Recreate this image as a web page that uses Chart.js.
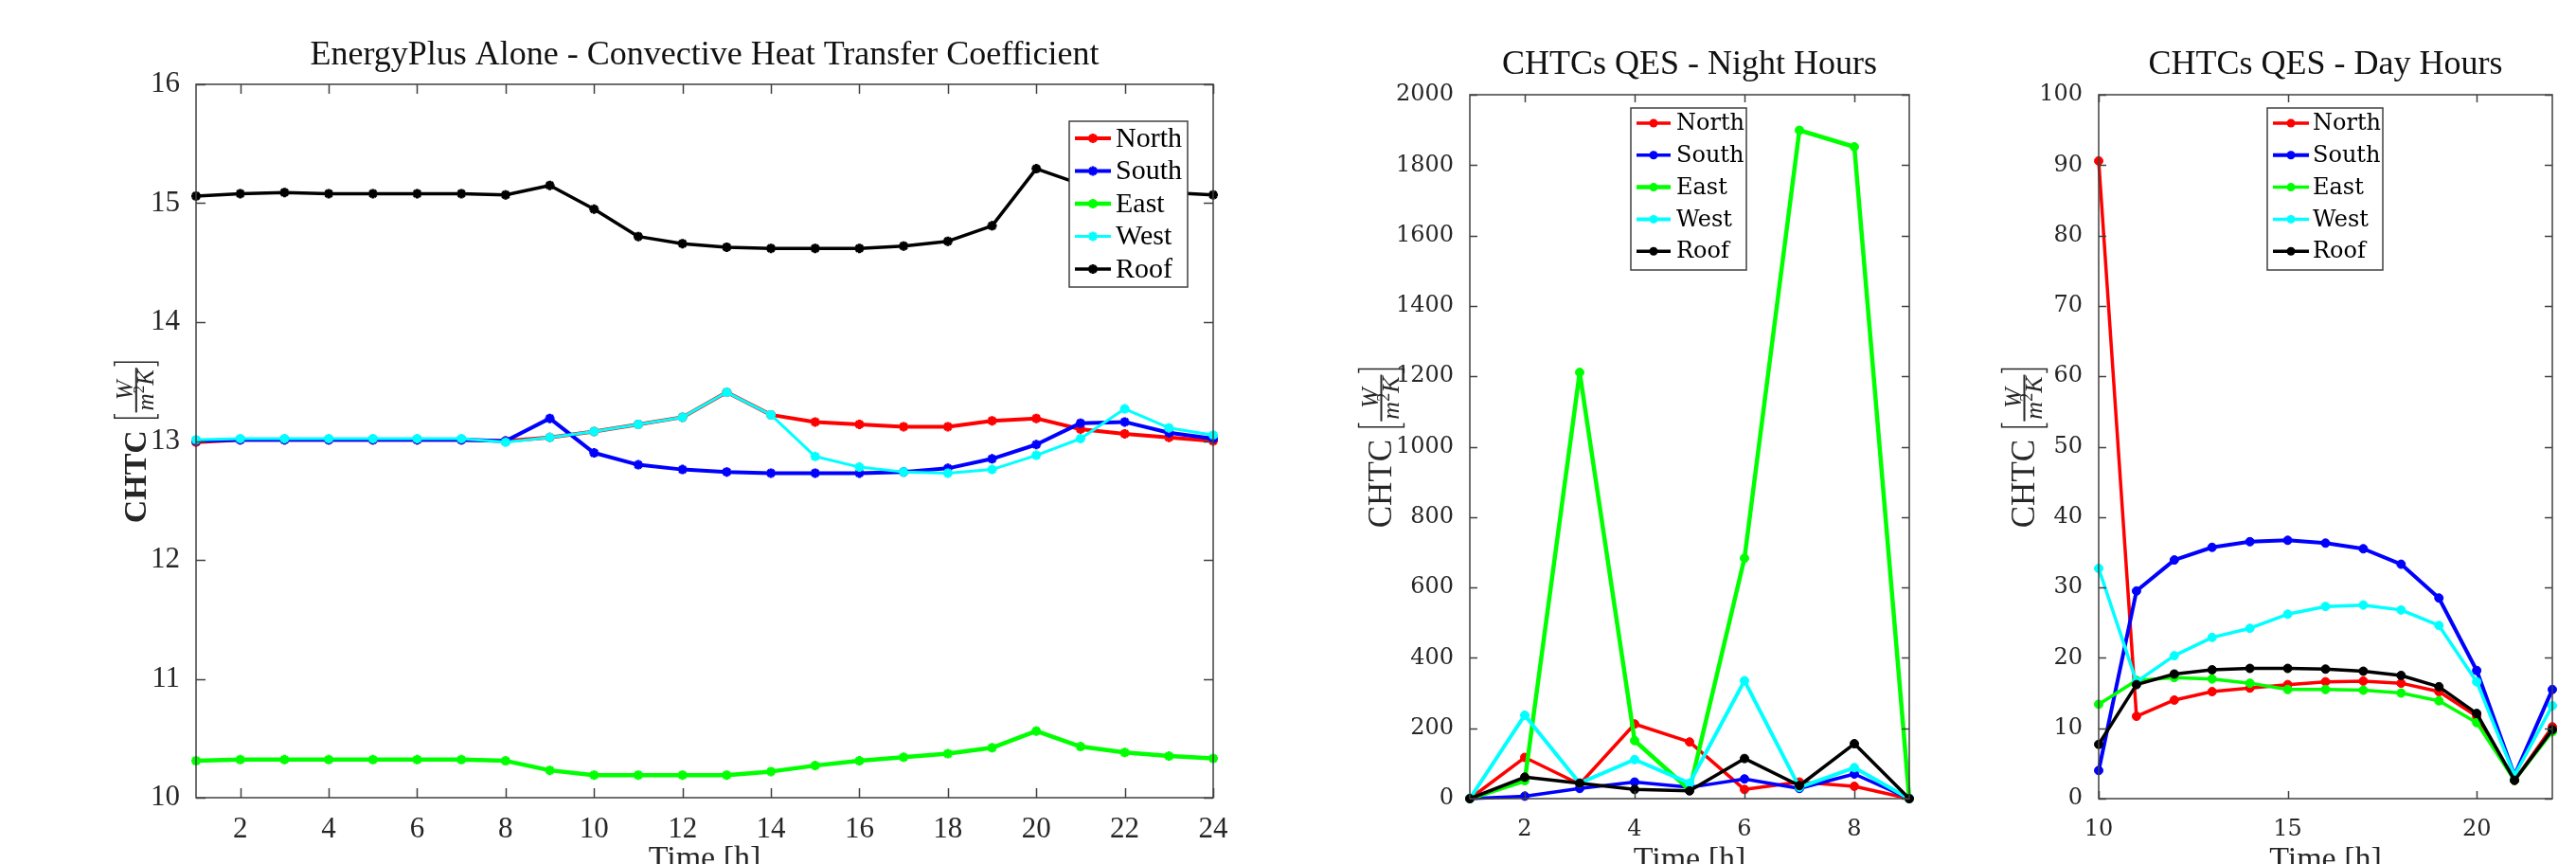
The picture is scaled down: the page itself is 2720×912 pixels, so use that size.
<!DOCTYPE html>
<html>
<head>
<meta charset="utf-8">
<title>CHTC comparison</title>
<script src="https://cdn.jsdelivr.net/npm/chart.js@4.4.1/dist/chart.umd.min.js"></script>
<style>
  html, body { margin: 0; padding: 0; background: #fff; }
  #wrap { position: relative; width: 2720px; height: 912px; overflow: hidden; background: #fff; }
  #wrap canvas { position: absolute; left: 0; top: 0; }
</style>
</head>
<body>
<div id="wrap">
  <canvas id="epChart" width="2720" height="912"></canvas>
  <canvas id="nightChart" width="2720" height="912"></canvas>
  <canvas id="dayChart" width="2720" height="912"></canvas>
</div>
<script>
// ---- data ----
const surfaces = ['North', 'South', 'East', 'West', 'Roof'];
const surfaceColors = ['#ff0000', '#0000ff', '#00ff00', '#00ffff', '#000000'];

// EnergyPlus alone, hours 1..24
const epHours = [1, 2, 3, 4, 5, 6, 7, 8, 9, 10, 11, 12, 13, 14, 15, 16, 17, 18, 19, 20, 21, 22, 23, 24];
const epNorth = [12.99, 13.01, 13.01, 13.01, 13.01, 13.01, 13.01, 13.0, 13.03, 13.08, 13.14, 13.20, 13.41, 13.22, 13.16, 13.14, 13.12, 13.12, 13.17, 13.19, 13.10, 13.06, 13.03, 13.0];
const epSouth = [13.0, 13.01, 13.01, 13.01, 13.01, 13.01, 13.01, 13.0, 13.19, 12.90, 12.80, 12.76, 12.74, 12.73, 12.73, 12.73, 12.74, 12.77, 12.85, 12.97, 13.15, 13.16, 13.07, 13.02];
const epEast = [10.31, 10.32, 10.32, 10.32, 10.32, 10.32, 10.32, 10.31, 10.23, 10.19, 10.19, 10.19, 10.19, 10.22, 10.27, 10.31, 10.34, 10.37, 10.42, 10.56, 10.43, 10.38, 10.35, 10.33];
const epWest = [13.01, 13.02, 13.02, 13.02, 13.02, 13.02, 13.02, 12.99, 13.03, 13.08, 13.14, 13.20, 13.41, 13.22, 12.87, 12.78, 12.74, 12.73, 12.76, 12.88, 13.02, 13.27, 13.11, 13.05];
const epRoof = [15.06, 15.08, 15.09, 15.08, 15.08, 15.08, 15.08, 15.07, 15.15, 14.95, 14.72, 14.66, 14.63, 14.62, 14.62, 14.62, 14.64, 14.68, 14.81, 15.29, 15.16, 15.13, 15.09, 15.07];

// QES night hours
const nightHours = [1, 2, 3, 4, 5, 6, 7, 8, 9];
const nightNorth = [0, 117, 41, 212, 161, 26, 47, 35, 0];
const nightSouth = [0, 7, 29, 47, 32, 56, 29, 70, 0];
const nightEast = [0, 51, 1211, 165, 25, 683, 1899, 1852, 0];
const nightWest = [0, 237, 44, 111, 44, 335, 32, 88, 0];
const nightRoof = [0, 61, 44, 26, 22, 114, 37, 156, 0];

// QES day hours
const dayHours = [10, 11, 12, 13, 14, 15, 16, 17, 18, 19, 20, 21, 22];
const dayNorth = [90.6, 11.7, 14.0, 15.2, 15.7, 16.2, 16.6, 16.7, 16.4, 15.2, 11.7, 2.6, 10.2];
const daySouth = [4.0, 29.5, 33.9, 35.7, 36.5, 36.7, 36.3, 35.5, 33.3, 28.5, 18.2, 3.3, 15.5];
const dayEast = [13.4, 16.8, 17.2, 17.0, 16.4, 15.5, 15.5, 15.4, 15.0, 13.9, 10.8, 2.6, 9.5];
const dayWest = [32.7, 16.6, 20.3, 22.9, 24.2, 26.2, 27.3, 27.5, 26.8, 24.6, 16.6, 3.3, 13.2];
const dayRoof = [7.7, 16.2, 17.7, 18.3, 18.5, 18.5, 18.4, 18.1, 17.5, 15.9, 12.1, 2.6, 9.8];

// tick values
const epXTicks = [2, 4, 6, 8, 10, 12, 14, 16, 18, 20, 22, 24];
const epYTicks = [10, 11, 12, 13, 14, 15, 16];
const nightXTicks = [2, 4, 6, 8];
const nightYTicks = [0, 200, 400, 600, 800, 1000, 1200, 1400, 1600, 1800, 2000];
const dayXTicks = [10, 15, 20];
const dayYTicks = [0, 10, 20, 30, 40, 50, 60, 70, 80, 90, 100];

// ---- drawing helpers ----
const PAGE_W = 2720, PAGE_H = 912;
const AXIS_COLOR = '#404040';
const TEXT_COLOR = '#262626';

function drawMarker(ctx, style, x, y, r, color, bw) {
  ctx.save();
  ctx.strokeStyle = color;
  ctx.fillStyle = color;
  if (style === 'circle') {
    ctx.beginPath();
    ctx.arc(x, y, r, 0, Math.PI * 2);
    ctx.fill();
  } else {
    ctx.lineWidth = bw;
    ctx.beginPath();
    for (let k = 0; k < 4; k++) {
      const ang = k * Math.PI / 4;
      ctx.moveTo(x - Math.cos(ang) * r, y - Math.sin(ang) * r);
      ctx.lineTo(x + Math.cos(ang) * r, y + Math.sin(ang) * r);
    }
    ctx.stroke();
  }
  ctx.restore();
}

function drawYLabel(ctx, cfg) {
  const s = cfg.size;
  const fam = '"Liberation Serif", "DejaVu Serif", serif';
  const mainFont = (cfg.bold ? 'bold ' : '') + s + 'px ' + fam;
  const fs = Math.round(s * 0.74);
  const fracFont = 'italic ' + fs + 'px ' + fam;
  const supFont = Math.round(fs * 0.68) + 'px ' + fam;

  ctx.save();
  ctx.translate(cfg.x, cfg.y);
  ctx.rotate(-Math.PI / 2);
  ctx.fillStyle = TEXT_COLOR;
  ctx.strokeStyle = TEXT_COLOR;
  ctx.textBaseline = 'alphabetic';
  ctx.textAlign = 'left';

  ctx.font = mainFont;
  const wMain = ctx.measureText('CHTC').width;
  const gap = s * 0.3;
  ctx.font = fracFont;
  const wW = ctx.measureText('W').width;
  const wm = ctx.measureText('m').width;
  const wK = ctx.measureText('K').width;
  ctx.font = supFont;
  const w2 = ctx.measureText('2').width;
  const wDen = wm + w2 + wK;
  const fracW = Math.max(wW, wDen) + 4;
  const brW = s * 0.25;
  const total = wMain + gap + brW + fracW + brW;

  let x = -total / 2;
  ctx.font = mainFont;
  ctx.fillText('CHTC', x, 0);
  x += wMain + gap;

  const bar = -s * 0.3;
  const top = bar - fs * 0.92;
  const bot = bar + fs * 0.92;
  ctx.lineWidth = 1.5;
  // left bracket
  ctx.beginPath();
  ctx.moveTo(x + brW * 0.8, top);
  ctx.lineTo(x + brW * 0.3, top);
  ctx.lineTo(x + brW * 0.3, bot);
  ctx.lineTo(x + brW * 0.8, bot);
  ctx.stroke();
  x += brW;
  // fraction
  ctx.lineWidth = 2;
  ctx.beginPath();
  ctx.moveTo(x, bar);
  ctx.lineTo(x + fracW, bar);
  ctx.stroke();
  ctx.font = fracFont;
  ctx.fillText('W', x + (fracW - wW) / 2, bar - fs * 0.14);
  let dx = x + (fracW - wDen) / 2;
  const denBase = bar + fs * 0.72;
  ctx.fillText('m', dx, denBase);
  dx += wm;
  ctx.font = supFont;
  ctx.fillText('2', dx, denBase - fs * 0.38);
  dx += w2;
  ctx.font = fracFont;
  ctx.fillText('K', dx, denBase);
  x += fracW;
  // right bracket
  ctx.lineWidth = 1.5;
  ctx.beginPath();
  ctx.moveTo(x + brW * 0.2, top);
  ctx.lineTo(x + brW * 0.7, top);
  ctx.lineTo(x + brW * 0.7, bot);
  ctx.lineTo(x + brW * 0.2, bot);
  ctx.stroke();
  ctx.restore();
}

const matlabPlugin = {
  id: 'matlab',
  afterDatasetsDraw(chart, args, opts) {
    const ctx = chart.ctx;
    const a = chart.chartArea;
    const xs = chart.scales.x, ys = chart.scales.y;
    const L = opts.tickLen;

    // legend box (opaque, like MATLAB)
    const lg = opts.legend;
    ctx.save();
    ctx.fillStyle = '#fff';
    ctx.fillRect(lg.x, lg.y, lg.w, lg.h);
    ctx.strokeStyle = AXIS_COLOR;
    ctx.lineWidth = 1.5;
    ctx.strokeRect(lg.x, lg.y, lg.w, lg.h);
    ctx.font = lg.font;
    ctx.textBaseline = 'middle';
    ctx.textAlign = 'left';
    chart.data.datasets.forEach((ds, i) => {
      const cy = lg.y + lg.first + i * lg.step;
      ctx.strokeStyle = ds.borderColor;
      ctx.lineWidth = ds.borderWidth;
      ctx.beginPath();
      ctx.moveTo(lg.x + lg.lineFrom, cy);
      ctx.lineTo(lg.x + lg.lineTo, cy);
      ctx.stroke();
      drawMarker(ctx, ds.pointStyle, lg.x + (lg.lineFrom + lg.lineTo) / 2, cy, ds.pointRadius, ds.borderColor, ds.pointBorderWidth);
      ctx.fillStyle = '#000';
      ctx.fillText(ds.label, lg.x + lg.textX, cy + 1);
    });
    ctx.restore();

    // box and inward ticks
    ctx.save();
    ctx.strokeStyle = AXIS_COLOR;
    ctx.lineWidth = 1.5;
    ctx.beginPath();
    xs.ticks.forEach(t => {
      const px = Math.round(xs.getPixelForValue(t.value)) + 0.5;
      ctx.moveTo(px, a.bottom); ctx.lineTo(px, a.bottom - L);
      ctx.moveTo(px, a.top); ctx.lineTo(px, a.top + L);
    });
    ys.ticks.forEach(t => {
      const py = Math.round(ys.getPixelForValue(t.value)) + 0.5;
      ctx.moveTo(a.left, py); ctx.lineTo(a.left + L, py);
      ctx.moveTo(a.right, py); ctx.lineTo(a.right - L, py);
    });
    ctx.stroke();
    ctx.strokeRect(a.left, a.top, a.right - a.left, a.bottom - a.top);
    ctx.restore();
  },
  afterDraw(chart, args, opts) {
    const ctx = chart.ctx;
    const a = chart.chartArea;
    const cx = (a.left + a.right) / 2;
    ctx.save();
    ctx.fillStyle = '#111';
    ctx.textAlign = 'center';
    ctx.textBaseline = 'alphabetic';
    ctx.font = opts.titleFont;
    ctx.fillText(opts.title, cx, a.top - opts.titleGap);
    ctx.fillStyle = TEXT_COLOR;
    ctx.font = opts.xLabelFont;
    ctx.fillText('Time [h]', cx, opts.xLabelBase);
    ctx.restore();
    drawYLabel(ctx, opts.yLabel);
  }
};

function buildDatasets(hours, series, look) {
  return series.map((vals, i) => ({
    label: surfaces[i],
    data: hours.map((h, j) => ({ x: h, y: vals[j] })),
    borderColor: surfaceColors[i],
    backgroundColor: surfaceColors[i],
    borderWidth: look.lineWidths[i],
    borderJoinStyle: 'round',
    borderCapStyle: 'round',
    pointStyle: look.pointStyle,
    pointRadius: look.pointRadius,
    pointBorderWidth: look.pointBorderWidth,
    pointBackgroundColor: surfaceColors[i],
    pointBorderColor: surfaceColors[i],
    tension: 0,
    clip: false,
    order: series.length - i
  }));
}

function makeChart(id, cfg) {
  const yW = 80, xH = 50;
  const ctx = document.getElementById(id).getContext('2d');
  return new Chart(ctx, {
    type: 'line',
    data: { datasets: buildDatasets(cfg.hours, cfg.series, cfg.look) },
    options: {
      responsive: false,
      animation: false,
      events: [],
      layout: {
        padding: {
          left: cfg.area.left - yW,
          right: PAGE_W - cfg.area.right,
          top: cfg.area.top,
          bottom: PAGE_H - cfg.area.bottom - xH
        }
      },
      plugins: {
        legend: { display: false },
        title: { display: false },
        tooltip: { enabled: false },
        matlab: cfg.decor
      },
      scales: {
        x: {
          type: 'linear',
          min: cfg.xRange[0],
          max: cfg.xRange[1],
          afterBuildTicks: s => { s.ticks = cfg.xTicks.map(v => ({ value: v })); },
          afterFit: s => { s.height = xH; },
          grid: { display: false },
          border: { display: false },
          ticks: {
            autoSkip: false,
            maxRotation: 0,
            padding: cfg.tickPadX,
            color: TEXT_COLOR,
            font: cfg.tickFont,
            callback: v => String(v)
          }
        },
        y: {
          type: 'linear',
          min: cfg.yRange[0],
          max: cfg.yRange[1],
          afterBuildTicks: s => { s.ticks = cfg.yTicks.map(v => ({ value: v })); },
          afterFit: s => { s.width = yW; },
          grid: { display: false },
          border: { display: false },
          ticks: {
            autoSkip: false,
            padding: cfg.tickPadY,
            color: TEXT_COLOR,
            font: cfg.tickFont,
            callback: v => String(v)
          }
        }
      }
    },
    plugins: [matlabPlugin]
  });
}

const cmFont = '"Liberation Serif", serif';
const wideFont = '"DejaVu Serif", serif';

makeChart('epChart', {
  hours: epHours,
  series: [epNorth, epSouth, epEast, epWest, epRoof],
  look: { lineWidths: [4, 4, 4.5, 3, 3.5], pointStyle: 'star', pointRadius: 5, pointBorderWidth: 3 },
  area: { left: 207, right: 1281, top: 89, bottom: 842 },
  xRange: [1, 24], yRange: [10, 16],
  xTicks: epXTicks, yTicks: epYTicks,
  tickFont: { family: cmFont, size: 31 },
  tickPadX: 7, tickPadY: 9,
  decor: {
    title: 'EnergyPlus Alone - Convective Heat Transfer Coefficient',
    titleFont: '36px ' + cmFont, titleGap: 21,
    xLabelFont: '34px ' + cmFont, xLabelBase: 916,
    yLabel: { x: 154, y: 466, size: 34, bold: true },
    tickLen: 10,
    legend: { x: 1129, y: 128, w: 125, h: 175, first: 18, step: 34.5, lineFrom: 6, lineTo: 44, textX: 49, font: '30px ' + cmFont }
  }
});

makeChart('nightChart', {
  hours: nightHours,
  series: [nightNorth, nightSouth, nightEast, nightWest, nightRoof],
  look: { lineWidths: [3.5, 3.5, 4.5, 4, 3.5], pointStyle: 'circle', pointRadius: 4.5, pointBorderWidth: 1 },
  area: { left: 1552, right: 2016, top: 100, bottom: 843 },
  xRange: [1, 9], yRange: [0, 2000],
  xTicks: nightXTicks, yTicks: nightYTicks,
  tickFont: { family: wideFont, size: 24 },
  tickPadX: 10, tickPadY: 9,
  decor: {
    title: 'CHTCs QES - Night Hours',
    titleFont: '36px ' + cmFont, titleGap: 22,
    xLabelFont: '34px ' + cmFont, xLabelBase: 917,
    yLabel: { x: 1469, y: 472, size: 35, bold: false },
    tickLen: 8,
    legend: { x: 1722, y: 114, w: 122, h: 171, first: 16, step: 33.8, lineFrom: 6, lineTo: 42, textX: 48, font: '24px ' + wideFont }
  }
});

makeChart('dayChart', {
  hours: dayHours,
  series: [dayNorth, daySouth, dayEast, dayWest, dayRoof],
  look: { lineWidths: [3.5, 4, 3.5, 3.5, 3.5], pointStyle: 'circle', pointRadius: 4.5, pointBorderWidth: 1 },
  area: { left: 2216, right: 2695, top: 100, bottom: 843 },
  xRange: [10, 22], yRange: [0, 100],
  xTicks: dayXTicks, yTicks: dayYTicks,
  tickFont: { family: wideFont, size: 24 },
  tickPadX: 10, tickPadY: 9,
  decor: {
    title: 'CHTCs QES - Day Hours',
    titleFont: '36px ' + cmFont, titleGap: 22,
    xLabelFont: '34px ' + cmFont, xLabelBase: 917,
    yLabel: { x: 2148, y: 472, size: 35, bold: false },
    tickLen: 8,
    legend: { x: 2394, y: 114, w: 122, h: 171, first: 16, step: 33.8, lineFrom: 6, lineTo: 44, textX: 48, font: '24px ' + wideFont }
  }
});
</script>
</body>
</html>
